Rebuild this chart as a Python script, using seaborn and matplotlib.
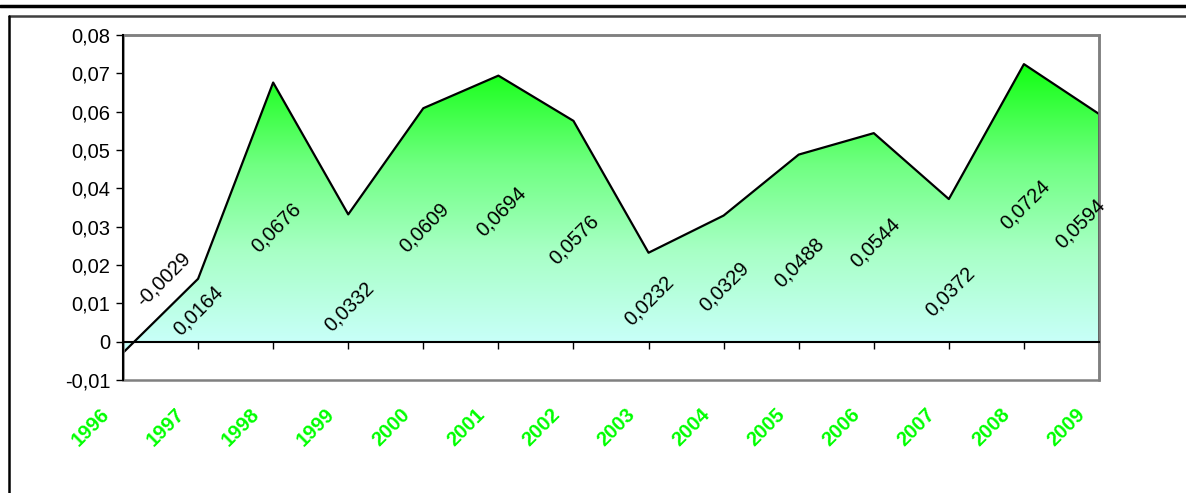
import numpy as np
import matplotlib
matplotlib.use("Agg")
import matplotlib.pyplot as plt
import matplotlib.transforms as mtransforms
from matplotlib.colors import LinearSegmentedColormap
from matplotlib.lines import Line2D
from matplotlib.patches import Rectangle
from matplotlib.ticker import FuncFormatter, FixedLocator
import seaborn as sns

# ---------------- data ----------------
years = ["1996", "1997", "1998", "1999", "2000", "2001", "2002",
         "2003", "2004", "2005", "2006", "2007", "2008", "2009"]
values = [-0.0029, 0.0164, 0.0676, 0.0332, 0.0609, 0.0694, 0.0576,
          0.0232, 0.0329, 0.0488, 0.0544, 0.0372, 0.0724, 0.0594]
value_labels = ["-0,0029", "0,0164", "0,0676", "0,0332", "0,0609", "0,0694", "0,0576",
                "0,0232", "0,0329", "0,0488", "0,0544", "0,0372", "0,0724", "0,0594"]
y_ticks = [-0.01, 0, 0.01, 0.02, 0.03, 0.04, 0.05, 0.06, 0.07, 0.08]

# label nudges (pixels, dx right, dy down) to match the reference placement
label_nudge = {0: (40, -68), 2: (3, 16), 3: (1, 29), 4: (1, 3), 5: (3, 3), 6: (1, 8),
               7: (1, 3), 8: (1, 8), 9: (1, 14), 10: (2, 5), 11: (1, 21), 12: (1, 2),
               13: (-19, -4)}

sns.set_style("white")
plt.rcParams["font.family"] = ["Liberation Sans", "DejaVu Sans"]
plt.rcParams["text.color"] = "black"
plt.rcParams["xtick.color"] = "black"
plt.rcParams["ytick.color"] = "black"

W, H = 1186, 493
fig = plt.figure(figsize=(W / 100, H / 100), dpi=100)
ax = fig.add_axes([123 / W, 1 - 380 / H, (1099 - 123) / W, (380 - 35) / H])

x = np.arange(len(values))
v = np.array(values)

# gradient-filled area
poly = ax.fill_between(x, v, 0, facecolor="none", edgecolor="none")
ymin, ymax = min(v.min(), 0), v.max()
cmap = LinearSegmentedColormap.from_list(
    "grad", [(0.0, "#CCFFFF"), (0.35, "#A8FFC6"), (0.65, "#70FF82"), (1.0, "#12FF12")])
grad = np.linspace(0, 1, 256).reshape(-1, 1)
im = ax.imshow(grad, cmap=cmap, aspect="auto", origin="lower",
               extent=[x[0], x[-1], ymin, ymax], zorder=1)
path = poly.get_paths()[0]
im.set_clip_path(path, transform=ax.transData)

# outline
sns.lineplot(x=x, y=v, color="black", lw=1.6, ax=ax, zorder=3)
ax.vlines(x[-1], 0, v[-1], color="black", lw=2, zorder=3)

ax.set_xlim(x[0], x[-1])
ax.set_ylim(y_ticks[0], y_ticks[-1])

# frame
for s in ["top", "right"]:
    ax.spines[s].set_color("#808080")
    ax.spines[s].set_linewidth(1.8)
ax.spines["left"].set_color("black")
ax.spines["left"].set_linewidth(1.5)
ax.spines["left"].set_zorder(5)
ax.spines["bottom"].set_position(("data", 0))
ax.spines["bottom"].set_color("black")
ax.spines["bottom"].set_linewidth(1.5)
ax.spines["bottom"].set_zorder(5)
ax.add_patch(Rectangle((0, 0), 1, 1, transform=ax.transAxes, facecolor="none",
                       edgecolor="#808080", lw=1.8, zorder=4, clip_on=False))

ax.yaxis.set_major_locator(FixedLocator(y_ticks))
ax.yaxis.set_major_formatter(FuncFormatter(
    lambda val, pos: "0" if abs(val) < 1e-12 else f"{val:.2f}".replace(".", ",")))
ax.tick_params(axis="y", direction="out", length=5, width=1, color="black",
               labelcolor="black", labelsize=14.5, pad=4, left=True)
ax.xaxis.set_major_locator(FixedLocator(x))
ax.tick_params(axis="x", direction="out", length=5, width=1, color="black",
               labelbottom=False, bottom=True)
ax.grid(False)

# year labels below the plot area
ytrans = mtransforms.blended_transform_factory(ax.transData, ax.transAxes) + \
    mtransforms.ScaledTranslation(-10 / 100, -25 / 100, fig.dpi_scale_trans)
for i, yr in enumerate(years):
    ax.text(x[i], 0, yr, transform=ytrans, rotation=45, ha="right", va="top",
            fontsize=14.5, fontweight="bold", color="#00FF00", clip_on=False)

# data labels
for i, (val, lab) in enumerate(zip(values, value_labels)):
    dx, dy = label_nudge.get(i, (0, 0))
    ax.annotate(lab, xy=(x[i], val / 2), xytext=(dx * 0.72, -dy * 0.72),
                textcoords="offset points", rotation=45, ha="center", va="center",
                rotation_mode="anchor", fontsize=14.5, color="black", zorder=6,
                annotation_clip=False)

# outer decorations of the original document frame
fig.add_artist(Line2D([0, 1], [1 - 6 / H, 1 - 6 / H], color="black", lw=2.5,
                      transform=fig.transFigure))
fig.add_artist(Line2D([9 / W, 1], [1 - 16 / H, 1 - 16 / H], color="#404040", lw=1.8,
                      transform=fig.transFigure))
fig.add_artist(Line2D([9 / W, 9 / W], [0, 1 - 16 / H], color="black", lw=1.8,
                      transform=fig.transFigure))

fig.savefig("out.png", dpi=100)
